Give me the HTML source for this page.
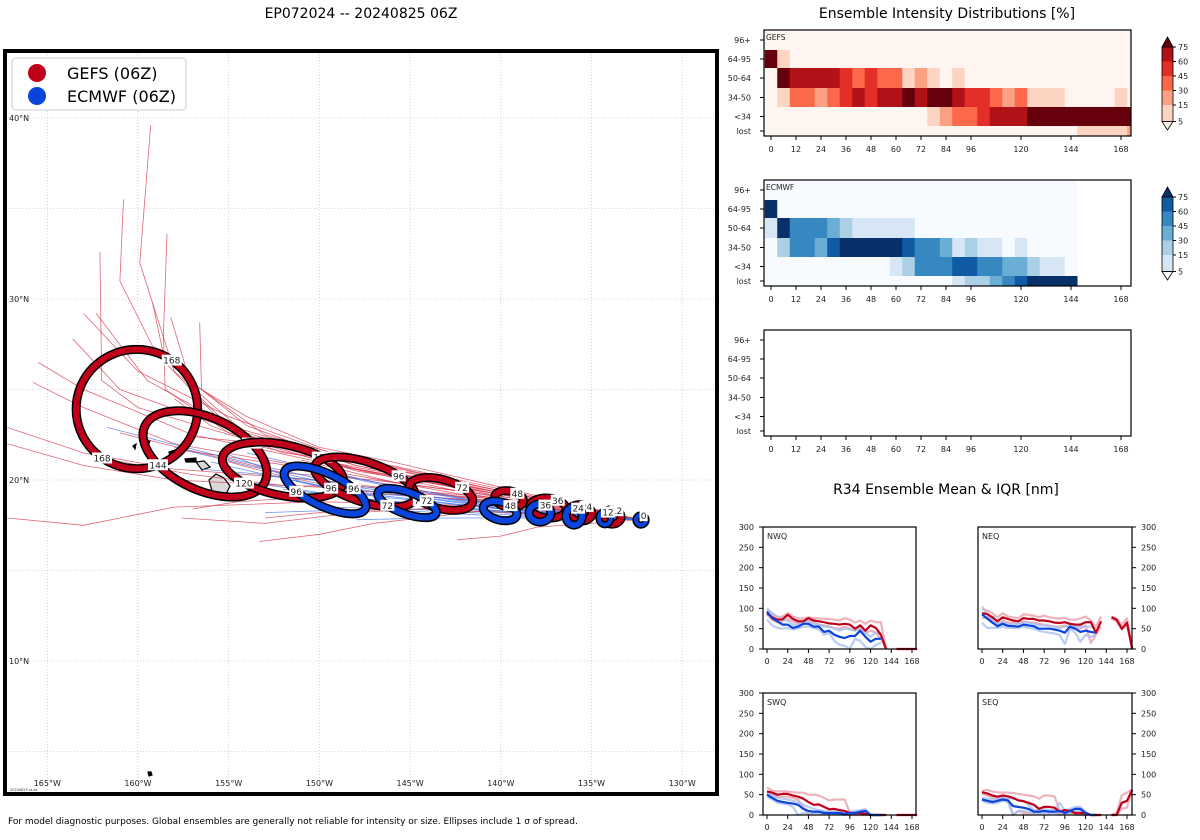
<!DOCTYPE html>
<html><head><meta charset="utf-8">
<style>
html,body{margin:0;padding:0;background:#fff;}
svg{display:block;font-family:"DejaVu Sans","Liberation Sans",sans-serif;}
</style></head>
<body>
<svg id="fig" width="1200" height="840" viewBox="0 0 1200 840" xmlns="http://www.w3.org/2000/svg">
<rect x="0" y="0" width="1200" height="840" fill="#fff"/>
<text x="361" y="18" font-size="14" text-anchor="middle">EP072024 -- 20240825 06Z</text>
<text x="947" y="18" font-size="14" text-anchor="middle">Ensemble Intensity Distributions [%]</text>
<text x="946" y="494" font-size="14" text-anchor="middle">R34 Ensemble Mean &amp; IQR [nm]</text>
<text x="8" y="824" font-size="9">For model diagnostic purposes. Global ensembles are generally not reliable for intensity or size. Ellipses include 1 σ of spread.</text>
<g id="map"></g>
<g id="heat"></g>
<g id="r34"></g>
</svg>
<script>
// ---------- MAP DATA ----------
const lonTicks=[-165,-160,-155,-150,-145,-140,-135,-130];
const latTicks=[40,30,20,10];
const gridLats=[40,35,30,25,20,15,10,5];
const gefsTracks=[
 [[-132.3,17.8],[-140,19.2],[-148,20.5],[-154,22.5],[-158,26],[-159.9,32],[-159.3,39.6]],
 [[-132.3,17.8],[-140,19.3],[-148,20.8],[-154,23],[-159,27],[-161,31],[-160.8,35.5]],
 [[-132.3,17.8],[-140,19.1],[-148,20.6],[-155,22.6],[-158.5,25],[-158.6,28],[-158.4,33.6]],
 [[-132.3,17.8],[-140,19.2],[-149,20.8],[-156,22.8],[-160,24],[-162,25.5],[-162.1,32.6]],
 [[-132.3,17.8],[-140,19.3],[-148,20.7],[-154,22],[-157,25],[-158.2,29]],
 [[-132.3,17.8],[-140,19.4],[-147,20.9],[-153,22.5],[-156.5,25],[-156.6,28.7]],
 [[-132.3,17.8],[-140,19.2],[-148,20.6],[-155,22.8],[-158.5,26.5],[-159.2,29.8]],
 [[-132.3,17.8],[-141,19.1],[-150,21],[-157,22.5],[-163,25],[-165.5,26.5]],
 [[-132.3,17.8],[-141,19],[-150,20.6],[-158,22],[-163,24],[-165.8,25.4]],
 [[-132.3,17.8],[-141,18.9],[-150,20],[-158,20.6],[-163,21.5],[-167.2,22.9]],
 [[-132.3,17.8],[-141,18.8],[-150,19.6],[-158,20],[-163,20.8],[-167.2,22]],
 [[-132.3,17.8],[-142,18.6],[-150,18.8],[-158,18.5],[-163,17.5],[-167.2,17.9]],
 [[-132.3,17.8],[-140,19.3],[-148,21],[-155,23.5],[-160,26],[-163,29.2]],
 [[-132.3,17.8],[-140,19.4],[-148,21],[-155,23],[-159.5,25.5],[-162.3,29.2]],
 [[-132.3,17.8],[-140,19.2],[-148,20.8],[-156,23.2],[-161,25],[-163.6,27.8]],
 [[-132.3,17.8],[-141,18.6],[-148,18.2],[-153,17.6],[-157.6,17.9]],
 [[-132.3,17.8],[-141,18.3],[-147,17.6],[-150,17],[-153.3,16.6]],
 [[-132.3,17.8],[-138,17.4],[-140,16.9],[-142.4,16.7]],
 [[-132.3,17.8],[-140,19.5],[-146,20.8],[-152,21.5],[-156,23],[-158,24.5]],
 [[-132.3,17.8],[-140,19.6],[-146,21],[-150,21.8],[-154,23.5],[-157,25.3]],
 [[-132.3,17.8],[-140,19.1],[-147,20],[-152,20.4],[-157,21.6],[-161,22.6]],
 [[-132.3,17.8],[-140,19],[-147,19.6],[-152,19.7],[-157,20.3],[-162,21.2]],
 [[-132.3,17.8],[-141,19.6],[-148,21.2],[-153,22],[-157,22.4]],
 [[-132.3,17.8],[-140,18.8],[-146,19.2],[-150,19.1],[-154.5,18.8],[-157,18.4]],
 [[-132.3,17.8],[-140,19],[-148,19.4],[-152,20.2],[-155,21]],
 [[-132.3,17.8],[-137,18.4],[-141,19.2],[-146,19.9],[-151,21.1]],
 [[-132.3,17.8],[-139,18.6],[-145,19.5],[-151,20.7],[-158,21.7]],
 [[-132.3,17.8],[-138,18.1],[-144,18.4],[-149,18.3],[-153,17.9]]
];
const ecmwfTracks=[
 [[-132.3,17.8],[-140,18.6],[-148,19.6],[-155,21.2],[-161.7,22.9]],
 [[-132.3,17.8],[-140,18.5],[-148,19.5],[-154,20.8],[-158,21.8]],
 [[-132.3,17.8],[-140,18.4],[-148,19.3],[-153,20.3],[-156,21]],
 [[-132.3,17.8],[-140,18.3],[-148,19],[-152,19.6],[-155,20]],
 [[-132.3,17.8],[-140,18.2],[-146,18.8],[-152,19.5]],
 [[-132.3,17.8],[-140,18.1],[-145,18.4],[-150,18.5]],
 [[-132.3,17.8],[-139,17.9],[-144,17.9],[-148,17.8]],
 [[-132.3,17.8],[-140,18],[-147,18.4],[-153,18.2]],
 [[-132.3,17.8],[-140,18.5],[-148,19.7],[-153,20.3],[-156.5,20.6]],
 [[-132.3,17.8],[-140,18.6],[-147,19.9],[-151,20.8],[-154,21.5]],
 [[-132.3,17.8],[-139,18.2],[-143,18.5],[-146,18.7]],
 [[-132.3,17.8],[-140,18.6],[-146,19.6],[-150,20.5]],
 [[-132.3,17.8],[-140,18.4],[-147,19.1],[-151,19.9],[-155,21.4]],
 [[-132.3,17.8],[-139,18.3],[-145,19.1],[-149,19.4],[-152,20.1]]
];
const ellHours=[168,144,120,96,72,48,36,24,12,0];
const gefsLon=[-160.06,-156.31,-152.01,-147.49,-143.30,-139.55,-137.40,-135.63,-133.87,-132.27];
const gefsLat=[23.92,21.44,20.55,19.89,19.23,18.95,18.45,18.18,17.96,17.79];
const gefsRx=[3.35,3.65,3.4,2.9,1.8,0.8,1.0,0.65,0.5,0.28];
const gefsRy=[3.3,2.0,1.4,1.1,0.8,0.45,0.55,0.45,0.4,0.28];
const gefsRot=[0,25,12,18,15,10,5,5,0,0];
const ecHours=[96,72,48,36,24,12,0];
const ecLon=[-149.69,-145.17,-140.04,-137.84,-135.96,-134.26,-132.27];
const ecLat=[19.45,18.73,18.29,18.18,18.01,17.90,17.79];
const ecRx=[2.45,1.7,0.95,0.6,0.45,0.33,0.28];
const ecRy=[0.9,0.6,0.5,0.5,0.5,0.38,0.28];
const ecRot=[25,20,15,0,0,0,0];

// ---------- HEATMAP DATA (percent) ----------
const intensityRows=["96+","64-95","50-64","34-50","<34","lost"];
const heatTicks=[0,12,24,36,48,60,72,84,96,120,144,168];
const gefs96=[0,0,0,0,0,0,0,0,0,0,0,0,0,0,0,0,0,0,0,0,0,0,0,0,0,0,0,0,0,0];
const gefs64=[85,10,0,0,0,0,0,0,0,0,0,0,0,0,0,0,0,0,0,0,0,0,0,0,0,0,0,0,0,0];
const gefs50=[0,85,68,68,68,68,52,38,52,38,38,10,22,10,0,10,0,0,0,0,0,0,0,0,0,0,0,0,0,0];
const gefs34=[0,10,38,38,22,38,52,68,52,68,68,85,68,85,85,68,52,52,38,22,38,10,10,10,0,0,0,0,10,0];
const gefsLt34=[0,0,0,0,0,0,0,0,0,0,0,0,0,10,22,38,38,52,68,68,68,85,85,85,85,85,85,85,85,85];
const gefsLost=[0,0,0,0,0,0,0,0,0,0,0,0,0,0,0,0,0,0,0,0,0,0,0,0,0,10,10,10,10,22];
const ec96=[0,0,0,0,0,0,0,0,0,0,0,0,0,0,0,0,0,0,0,0,0,0,0,0,0];
const ec64=[85,0,0,0,0,0,0,0,0,0,0,0,0,0,0,0,0,0,0,0,0,0,0,0,0];
const ec50=[10,85,52,52,52,38,22,10,10,10,10,10,0,0,0,0,0,0,0,0,0,0,0,0,0];
const ec34=[2,22,52,52,38,68,85,85,85,85,85,68,52,52,38,10,22,10,10,2,10,0,0,0,0];
const ecLt34=[0,0,0,0,0,0,0,0,0,0,10,22,52,52,52,68,68,52,52,38,38,22,10,10,2];
const ecLost=[0,0,0,0,0,0,0,0,0,0,0,0,0,0,0,10,22,22,38,52,68,85,85,85,85];
const cbTicks=[75,60,45,30,15,5];

// ---------- R34 DATA (nm), every 6h from 0 ----------
const r34Ticks=[0,24,48,72,96,120,144,168];
const r34YTicks=[0,50,100,150,200,250,300];
const nwGefs=[88,78,72,73,84,74,68,68,76,70,68,66,63,62,60,62,60,50,58,45,58,52,35,0,null,0,0,0,0,0];
const nwGefsHi=[95,85,78,80,88,80,75,75,78,76,75,74,74,72,70,76,72,65,70,62,70,66,66,0];
const nwGefsLo=[85,72,65,68,75,68,62,65,70,65,60,58,55,52,50,55,50,45,50,40,45,40,25,0];
const nwEc=[92,75,68,60,60,52,55,62,62,55,55,42,45,35,30,27,32,32,45,30,18,25,25];
const nwEcHi=[100,88,80,72,70,60,60,68,68,62,60,55,55,50,45,50,48,45,55,40,30,40,38];
const nwEcLo=[72,58,52,50,52,48,50,55,55,52,48,35,40,20,10,8,0,25,20,5,0,10,15];
const neGefs=[88,86,78,68,78,74,70,68,76,74,74,70,70,68,65,64,66,62,60,60,66,66,40,68,null,78,72,50,65,0];
const neGefsHi=[98,95,88,78,88,80,78,76,85,84,82,78,82,78,76,75,76,72,72,75,80,70,55,80,null,80,75,60,75,0];
const neGefsLo=[75,80,70,60,70,65,65,62,68,66,65,62,60,58,55,55,58,52,50,50,58,15,35,55,null,75,68,48,58,0];
const neEc=[85,75,65,56,62,57,56,55,60,58,56,50,50,50,48,45,40,55,50,42,45,42,40];
const neEcHi=[105,85,75,62,66,62,60,62,66,64,62,58,58,56,55,52,55,60,55,55,55,55,50];
const neEcLo=[65,52,52,52,55,52,52,52,55,52,50,45,42,40,38,35,12,50,40,18,35,30,35];
const swGefs=[58,55,50,52,52,48,45,40,32,25,26,20,14,15,12,10,5,5,5,3,0,0,0,0,null,0,0,0,0,0];
const swGefsHi=[68,60,58,58,58,56,55,55,50,50,48,42,36,38,38,38,5,5,5,3,0,0,0,0];
const swGefsLo=[52,50,45,45,45,42,38,20,0,5,10,8,5,5,3,0,0,0,0,0,0,0,0,0];
const swEc=[50,42,35,32,30,28,25,15,10,8,8,5,5,5,5,3,5,5,8,10,0,0,0];
const swEcHi=[55,48,42,40,38,35,32,25,20,15,12,10,8,8,8,8,8,10,12,15,0,0,0];
const swEcLo=[45,38,30,28,26,20,0,5,5,5,5,3,3,3,3,0,3,3,5,5,0,0,0];
const seGefs=[56,53,48,45,48,46,42,36,34,30,25,15,20,20,18,8,12,10,5,5,5,0,0,0,null,0,0,30,35,62];
const seGefsHi=[60,62,58,56,55,55,54,52,50,48,46,40,48,48,46,10,12,10,5,5,5,0,0,0,null,0,5,48,55,62];
const seGefsLo=[52,48,42,40,42,40,0,10,5,5,5,5,8,10,8,0,5,5,0,0,0,0,0,0,null,0,0,15,18,62];
const seEc=[38,35,32,35,38,36,22,20,18,15,8,8,10,8,8,10,5,10,15,15,5,0,0];
const seEcHi=[42,40,38,40,44,42,40,38,35,25,12,12,15,12,12,30,10,15,20,20,8,0,0];
const seEcLo=[35,30,28,30,35,32,0,10,10,8,5,5,5,5,5,5,3,5,10,10,3,0,0];

const NS="http://www.w3.org/2000/svg";
function mk(tag,attrs,parent,txt){const e=document.createElementNS(NS,tag);for(const k in attrs)e.setAttribute(k,attrs[k]);if(txt!==undefined)e.textContent=txt;parent.appendChild(e);return e;}

// ---------- MAP ----------
const map=document.getElementById('map');
const X=lon=>138+(lon+160)*18.14;
const Y=lat=>480-(lat-20)*18.1;
const mclip=mk('clipPath',{id:'mclip'},map);mk('rect',{x:5,y:51,width:712,height:743},mclip);
const mg=mk('g',{'clip-path':'url(#mclip)'},map);
for(let lon=-170;lon<=-125;lon+=5){const l=mk('line',{x1:X(lon),x2:X(lon),y1:51,y2:794,stroke:'#c8c8c8','stroke-width':0.8,'stroke-dasharray':'1,2'},mg);

}
gridLats.forEach(lat=>{const l=mk('line',{x1:5,x2:717,y1:Y(lat),y2:Y(lat),stroke:'#c8c8c8','stroke-width':0.8,'stroke-dasharray':'1,2'},mg);

});
// islands
const isl=[[[209,480],[216,474],[224,478],[230,486],[226,494],[218,497],[212,491]],[[196,462],[204,461],[210,467],[202,470]],[[185,459],[196,458],[196,462],[186,462]],[[169,452],[175,450],[176,456],[170,457]],[[145,440],[150,441],[148,446]],[[133,446],[136,444],[135,449]],[[148,772],[151,772],[152,775],[149,776]]];
isl.forEach((p,i)=>{const e=mk('polygon',{points:p.map(q=>q.join(',')).join(' '),fill:i<2?'#d8d8d8':'#000',stroke:'#000','stroke-width':1.2},mg);

});
function trackPath(t){return t.map((p,i)=>(i?'L':'M')+X(p[0]).toFixed(1)+','+Y(p[1]).toFixed(1)).join('');}
gefsTracks.forEach(t=>{const e=mk('path',{d:trackPath(t),fill:'none',stroke:'#d6334a','stroke-width':0.8,opacity:0.75},mg);

});
ecmwfTracks.forEach(t=>{const e=mk('path',{d:trackPath(t),fill:'none',stroke:'#3a6ee8','stroke-width':0.8,opacity:0.75},mg);

});
function ellipses(hours,lons,lats,rxs,rys,rots,col,name){
 hours.forEach((h,i)=>{
  const cx=X(lons[i]),cy=Y(lats[i]),rx=rxs[i]*18.14,ry=rys[i]*18.1,r=rots[i];
  const g=mk('g',{transform:`rotate(${r},${cx},${cy})`},mg);
  
  
  mk('ellipse',{cx,cy,rx,ry,fill:'none',stroke:'#000','stroke-width':rx>8?9:7},g);
  mk('ellipse',{cx,cy,rx,ry,fill:'none',stroke:col,'stroke-width':rx>8?6:4},g);
  const angs=rx>30?[-55,125]:[-60];
  angs.forEach(a=>{const t=a*Math.PI/180,rr=r*Math.PI/180;
   const px=cx+rx*Math.cos(t)*Math.cos(rr)-ry*Math.sin(t)*Math.sin(rr);
   const py=cy+rx*Math.cos(t)*Math.sin(rr)+ry*Math.sin(t)*Math.cos(rr);
   const s=String(h),w=s.length*6+2;
   const lb=mk('g',{},mg);
   
   
   mk('rect',{x:px-w/2,y:py-5.5,width:w,height:11,fill:'#fff'},lb);
   mk('text',{x:px,y:py+3.5,'font-size':9,'text-anchor':'middle',fill:'#222'},lb,s);});
 });
}
ellipses(ellHours,gefsLon,gefsLat,gefsRx,gefsRy,gefsRot,'#c0001b','gefs');
ellipses(ecHours,ecLon,ecLat,ecRx,ecRy,ecRot,'#0a44dd','ecmwf');
lonTicks.forEach(lon=>{const t=mk('text',{x:X(lon),y:786,'font-size':8,'text-anchor':'middle',fill:'#222'},map,(-lon)+'°W');

});
latTicks.forEach(lat=>{const t=mk('text',{x:9,y:Y(lat)+3,'font-size':8,fill:'#222'},map,lat+'°N');

});
mk('text',{x:10,y:791,'font-size':3.5,fill:'#333'},map,'20240825 ss:ss');
const border=mk('rect',{x:5,y:51,width:712,height:743,fill:'none',stroke:'#000','stroke-width':4},map);


const leg=mk('g',{},map);


mk('rect',{x:12,y:58,width:174,height:52,rx:4,fill:'#fff',stroke:'#ccc','stroke-width':1},leg);
[['GEFS (06Z)','#c0001b',73],['ECMWF (06Z)','#0a44dd',96]].forEach(d=>{const g=mk('g',{},leg);


mk('circle',{cx:37,cy:d[2],r:9,fill:d[1]},g);mk('text',{x:67,y:d[2]+6,'font-size':16},g,d[0]);});

// ---------- HEATMAPS ----------
const heat=document.getElementById('heat');
const HX=h=>771+h*350/168;
const rowB=[0,20,38,58,77,96,106];
const reds=['#fff5f0','#fdd3c1','#fca083','#fb694a','#e32f27','#b11218','#67000d'];
const blues=['#f7fbff','#d6e6f4','#abd0e6','#6aaed6','#3787c0','#105ba4','#08306b'];
const bounds=[5,15,30,45,60,75];
function lvl(v){let l=0;bounds.forEach(b=>{if(v>=b)l++;});return l;}
function heatPanel(top,rows,cols,label,cbName){
 const g=mk('g',{},heat);
 
 
 const cid='hc'+top;const cp=mk('clipPath',{id:cid},g);mk('rect',{x:764,y:top,width:367,height:106},cp);
 const cg=mk('g',{'clip-path':`url(#${cid})`},g);
 if(rows){rows.forEach((arr,r)=>{arr.forEach((v,c)=>{const x=HX(c*6)-6.25;
  const e=mk('rect',{x:x,y:top+rowB[r],width:12.8,height:rowB[r+1]-rowB[r],fill:cols[lvl(v)]},cg);
  
  });});}
 mk('rect',{x:764,y:top,width:367,height:106,fill:'none',stroke:'#000','stroke-width':1.2},g);
 intensityRows.forEach((n,r)=>{const yc=top+(rowB[r]+rowB[r+1])/2;mk('line',{x1:760,x2:764,y1:yc,y2:yc,stroke:'#000'},g);
  mk('text',{x:751,y:yc+3,'font-size':8,'text-anchor':'end',fill:'#222'},g,n);});
 heatTicks.forEach(h=>{mk('line',{x1:HX(h),x2:HX(h),y1:top+106,y2:top+110,stroke:'#000'},g);
  mk('text',{x:HX(h),y:top+122,'font-size':8,'text-anchor':'middle',fill:'#222'},g,h);});
 if(label)mk('text',{x:766,y:top+10,'font-size':7.5,fill:'#222'},g,label);
 if(cols){const cb=mk('g',{},g);
  
  
  const y0=top+17,seg=14.5;
  mk('polygon',{points:`1162,${y0} 1167.5,${top+7} 1173,${y0}`,fill:cols[6],stroke:'#000','stroke-width':0.8},cb);
  for(let i=0;i<5;i++)mk('rect',{x:1162,y:y0+i*seg,width:11,height:seg,fill:cols[5-i]},cb);
  const yb=y0+5*seg+2;mk('rect',{x:1162,y:y0+5*seg,width:11,height:2,fill:cols[1]},cb);
  mk('polygon',{points:`1162,${yb} 1167.5,${top+100} 1173,${yb}`,fill:cols[0],stroke:'#000','stroke-width':0.8},cb);
  mk('rect',{x:1162,y:y0,width:11,height:yb-y0,fill:'none',stroke:'#000','stroke-width':0.8},cb);
  cbTicks.forEach((t,i)=>{const yy=i<5?y0+i*seg:yb;mk('line',{x1:1173,x2:1176,y1:yy,y2:yy,stroke:'#000'},cb);
   mk('text',{x:1178,y:yy+3,'font-size':8,fill:'#222'},cb,t);});}
}
heatPanel(30,[gefs96,gefs64,gefs50,gefs34,gefsLt34,gefsLost],reds,'GEFS','gefs');
heatPanel(180,[ec96,ec64,ec50,ec34,ecLt34,ecLost],blues,'ECMWF','ecmwf');
heatPanel(330,null,null,'','empty');

// ---------- R34 ----------
const r34=document.getElementById('r34');
function seg(arr,fx,fy){let d='',pen=false;arr.forEach((v,i)=>{if(v===null){pen=false;return;}d+=(pen?'L':'M')+fx(i*6).toFixed(1)+','+fy(v).toFixed(1);pen=true;});return d;}
function panel(bx,by,label,right,series){
 const w=(right?154:153),h=122;const g=mk('g',{},r34);
 
 
 const fx=t=>bx+4+t*145/168, fy=v=>by+h-v*h/300;
 const cid='rc'+bx+by;const cp=mk('clipPath',{id:cid},g);mk('rect',{x:bx,y:by-2,width:w+2,height:h+4},cp);
 const cg=mk('g',{'clip-path':`url(#${cid})`},g);
 series.forEach(s=>{const e=mk('path',{d:seg(s[0],fx,fy),fill:'none',stroke:s[1],'stroke-width':s[2],opacity:s[3],'stroke-linejoin':'round'},cg);
  
  });
 mk('rect',{x:bx,y:by,width:w,height:h,fill:'none',stroke:'#000','stroke-width':1.2},g);
 mk('text',{x:bx+4,y:by+12,'font-size':8,fill:'#222'},g,label);
 r34YTicks.forEach(v=>{const yy=fy(v);
  if(right){mk('line',{x1:bx+w,x2:bx+w+4,y1:yy,y2:yy,stroke:'#000'},g);mk('text',{x:bx+w+9,y:yy+3,'font-size':8,fill:'#222'},g,v);}
  else{mk('line',{x1:bx-4,x2:bx,y1:yy,y2:yy,stroke:'#000'},g);mk('text',{x:bx-9,y:yy+3,'font-size':8,'text-anchor':'end',fill:'#222'},g,v);}});
 r34Ticks.forEach(t=>{mk('line',{x1:fx(t),x2:fx(t),y1:by+h,y2:by+h+4,stroke:'#000'},g);
  mk('text',{x:fx(t),y:by+h+15,'font-size':8,'text-anchor':'middle',fill:'#222'},g,t);});
}
function S(m,mh,ml,e,eh,el){return [[mh,'#e8a0aa',2.2,0.8,'gefs-iqr-upper'],[ml,'#e8a0aa',2.2,0.8,'gefs-iqr-lower'],[eh,'#a8bff0',2.2,0.8,'ecmwf-iqr-upper'],[el,'#a8bff0',2.2,0.8,'ecmwf-iqr-lower'],[m,'#c0001b',2.2,1,'gefs-mean'],[e,'#0a44dd',2.2,1,'ecmwf-mean']];}
panel(763,527,'NWQ',false,S(nwGefs,nwGefsHi,nwGefsLo,nwEc,nwEcHi,nwEcLo));
panel(978,527,'NEQ',true,S(neGefs,neGefsHi,neGefsLo,neEc,neEcHi,neEcLo));
panel(763,693,'SWQ',false,S(swGefs,swGefsHi,swGefsLo,swEc,swEcHi,swEcLo));
panel(978,693,'SEQ',true,S(seGefs,seGefsHi,seGefsLo,seEc,seEcHi,seEcLo));
</script>
</body></html>
